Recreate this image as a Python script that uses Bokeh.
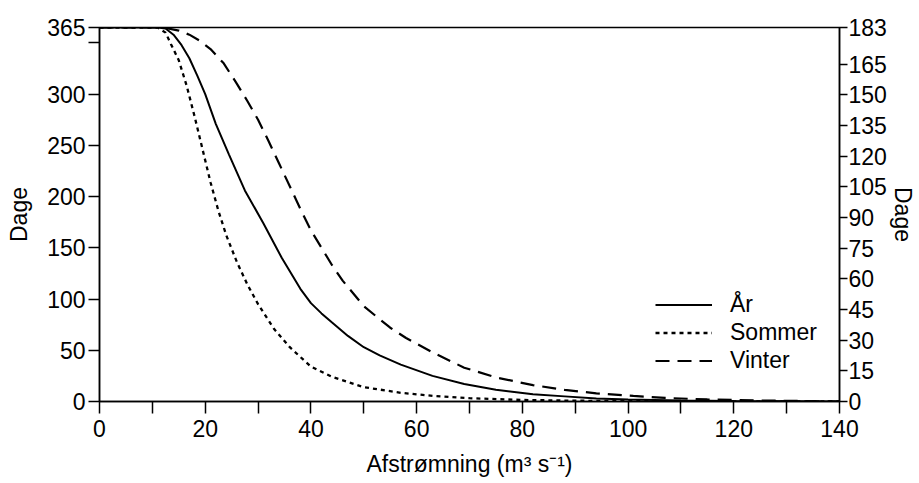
from bokeh.plotting import figure
from bokeh.models import Range1d, LinearAxis, FixedTicker, Legend, LegendItem
from bokeh.embed import file_html
from bokeh.resources import INLINE

# ---- data ----
x_label = "Afstrømning (m³ s⁻¹)"
y_label_left = "Dage"
y_label_right = "Dage"
series_names = ["År", "Sommer", "Vinter"]

ar_x = [0, 11, 12.5, 14, 15.5, 17, 18.5, 20, 22, 24.5, 27.5, 31, 34.5, 38, 40, 42, 44, 47, 50, 53, 57, 63, 69, 75, 82, 88, 94, 100, 110, 120, 140]
ar_y = [365, 365, 364, 358, 348, 335, 318, 300, 271, 241, 206, 174, 140, 110, 96, 86, 77, 64, 53, 45, 36, 25, 17, 11.5, 7, 5, 3, 2, 1, 0.5, 0]

sommer_x = [0, 11, 12.5, 13.5, 15, 16.5, 18, 19.5, 21, 22.5, 24, 26, 28, 30, 33, 36, 40, 44, 50, 57, 63, 70, 80, 90, 100, 120, 140]
sommer_y = [365, 365, 360, 349, 333, 308, 278, 246, 214, 186, 162, 136, 114, 95, 71, 53, 34, 24, 14, 8.5, 5.5, 3.2, 1.5, 0.8, 0.4, 0, 0]

vinter_x = [0, 12, 15, 17, 19, 21, 23.5, 26, 28, 30, 32, 34, 36, 38, 40, 42, 44, 46, 50, 55, 58, 63, 69, 75, 82, 88, 94, 101, 107, 115, 125, 140]
vinter_y = [365, 365, 362, 358, 352, 344, 330, 310, 293, 275, 254, 232, 210, 188, 167, 150, 133, 118, 93, 72, 62, 48, 33, 23.5, 16, 11.3, 8, 5.5, 3.5, 2, 1, 0]

x_ticks = [0, 10, 20, 30, 40, 50, 60, 70, 80, 90, 100, 110, 120, 130, 140]
x_tick_labels = ["0", "", "20", "", "40", "", "60", "", "80", "", "100", "", "120", "", "140"]
left_ticks = [0, 50, 100, 150, 200, 250, 300, 350, 365]
left_tick_labels = ["0", "50", "100", "150", "200", "250", "300", "", "365"]
right_ticks = [0, 15, 30, 45, 60, 75, 90, 105, 120, 135, 150, 165, 183]
right_tick_labels = ["0", "15", "30", "45", "60", "75", "90", "105", "120", "135", "150", "165", "183"]

FONT = "Liberation Sans"
FS = "23px"

p = figure(width=918, height=483, output_backend="svg", toolbar_location=None,
           x_range=Range1d(0, 140), y_range=Range1d(0, 365),
           min_border_left=99, min_border_right=78, min_border_top=27, min_border_bottom=82)
p.xgrid.visible = False
p.ygrid.visible = False
p.outline_line_color = "black"
p.outline_line_width = 1.5
p.background_fill_color = "white"
p.border_fill_color = "white"

p.extra_y_ranges = {"right": Range1d(0, 183)}
right_axis = LinearAxis(y_range_name="right")
p.add_layout(right_axis, "right")


def style_axis(ax, ticks, labels, tick_out, label_standoff, axis_standoff, label):
    ax.ticker = FixedTicker(ticks=ticks)
    ax.major_label_overrides = {t: l for t, l in zip(ticks, labels)}
    ax.axis_line_color = "black"
    ax.axis_line_width = 1.5
    ax.major_tick_line_color = "black"
    ax.major_tick_line_width = 1.5
    ax.major_tick_out = tick_out
    ax.major_tick_in = 0
    ax.minor_tick_out = 0
    ax.minor_tick_in = 0
    ax.major_label_text_font = FONT
    ax.major_label_text_font_size = FS
    ax.major_label_text_color = "black"
    ax.major_label_standoff = label_standoff
    ax.axis_label = label
    ax.axis_label_text_font = FONT
    ax.axis_label_text_font_size = FS
    ax.axis_label_text_font_style = "normal"
    ax.axis_label_text_color = "black"
    ax.axis_label_standoff = axis_standoff


style_axis(p.xaxis[0], x_ticks, x_tick_labels, 12, 6, 11, x_label)
style_axis(p.yaxis[0], left_ticks, left_tick_labels, 11, 3, 12, y_label_left)
style_axis(right_axis, right_ticks, right_tick_labels, 8, 1, 0, y_label_right)

r_ar = p.line(ar_x, ar_y, line_color="black", line_width=2)
r_so = p.line(sommer_x, sommer_y, line_color="black", line_width=2.3, line_dash="4 4")
r_vi = p.line(vinter_x, vinter_y, line_color="black", line_width=2.2, line_dash="14 8")

legend = Legend(items=[LegendItem(label=series_names[0], renderers=[r_ar]),
                       LegendItem(label=series_names[1], renderers=[r_so]),
                       LegendItem(label=series_names[2], renderers=[r_vi])],
                location=(556, 27), padding=0, margin=0, spacing=1,
                glyph_width=57, glyph_height=25, label_height=25, label_standoff=18,
                border_line_color=None, background_fill_alpha=0,
                label_text_font=FONT, label_text_font_size=FS, label_text_color="black")
p.add_layout(legend)

open("out.html", "w").write(file_html(p, INLINE))
